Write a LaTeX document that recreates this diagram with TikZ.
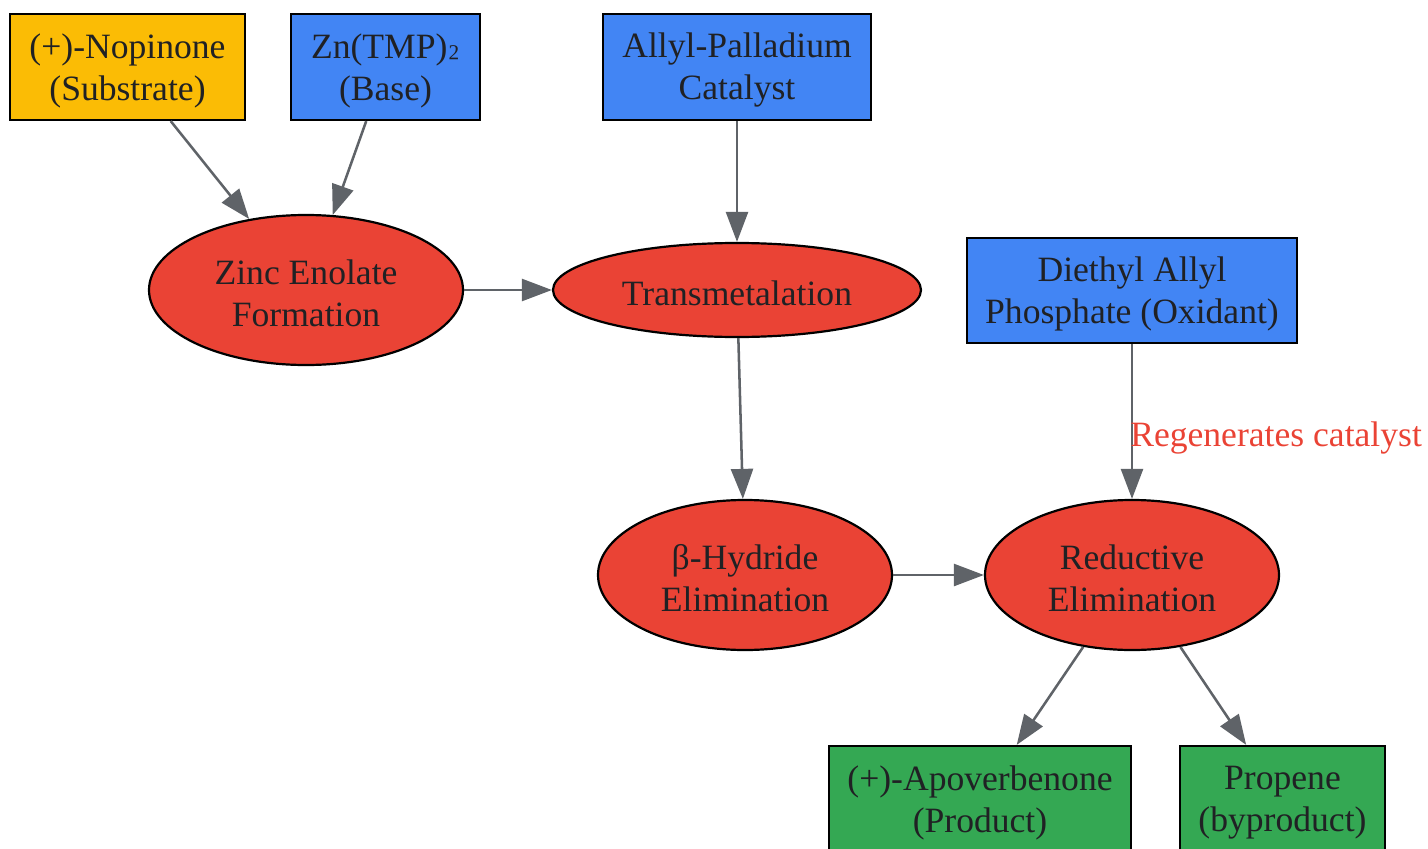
\documentclass[tikz,border=0pt]{standalone}
\usepackage{fontspec}
\setmainfont{Liberation Serif}
\usetikzlibrary{shapes.geometric,arrows.meta}
\definecolor{gyellow}{HTML}{FBBC05}
\definecolor{gblue}{HTML}{4285F4}
\definecolor{gred}{HTML}{EA4335}
\definecolor{ggreen}{HTML}{34A853}
\definecolor{txt}{HTML}{202124}
\definecolor{edgegrey}{HTML}{5F6368}
\begin{document}
\begin{tikzpicture}[x=0.75pt,y=-0.75pt,
  base/.style={draw=black, line width=1.65pt, inner sep=0pt},
  lbl/.style={text=txt, font=\fontsize{26.7}{31.5}\selectfont, align=center, inner sep=0pt, yshift=-2.6pt},
  txtin/.style={label={[lbl]center:#1}},
  boxnode/.style={base, rectangle},
  ellnode/.style={base, ellipse, fill=gred},
  conn/.style={draw=edgegrey, line width=1.9pt, -{Triangle[length=22.5pt,width=16.5pt]}},
  edgelabel/.style={text=gred, font=\fontsize{26.7}{31.5}\selectfont, inner sep=0pt}]
\useasboundingbox (0,0) rectangle (1428,849);

\node[boxnode, fill=gyellow, minimum width=176.25pt, minimum height=79.5pt, txtin={(+)-Nopinone\\(Substrate)}] (nop) at (127.5,67) {};
\node[boxnode, fill=gblue, minimum width=141.75pt, minimum height=79.5pt, txtin={Zn(TMP)\raisebox{4.5pt}{₂}\\(Base)}] (zn) at (385.5,67) {};
\node[boxnode, fill=gblue, minimum width=201pt, minimum height=79.5pt, txtin={Allyl-Palladium\\Catalyst}] (pd) at (737,67) {};
\node[boxnode, fill=gblue, minimum width=247.5pt, minimum height=78.75pt, txtin={Diethyl Allyl\\Phosphate (Oxidant)}] (dap) at (1132,290.5) {};

\node[ellnode, minimum width=235.5pt, minimum height=112.5pt, txtin={Zinc Enolate\\Formation}] (zen) at (306,290) {};
\node[ellnode, minimum width=276pt, minimum height=70.5pt, txtin={Transmetalation}] (tm) at (737,290) {};
\node[ellnode, minimum width=220.5pt, minimum height=112.5pt, txtin={β-Hydride\\Elimination}] (bhe) at (745,575) {};
\node[ellnode, minimum width=220.5pt, minimum height=112.5pt, txtin={Reductive\\Elimination}] (re) at (1132,575) {};

\node[boxnode, fill=ggreen, minimum width=226.5pt, minimum height=79.5pt, txtin={(+)-Apoverbenone\\(Product)}] (apo) at (980,799) {};
\node[boxnode, fill=ggreen, minimum width=153.75pt, minimum height=79.5pt, txtin={Propene\\(byproduct)}] (prop) at (1282.5,799) {};

\draw[conn] (nop) -- (zen);
\draw[conn] (zn) -- (zen);
\draw[conn] (pd) -- (tm);
\draw[conn] (zen) -- (tm);
\draw[conn] (tm) -- (bhe);
\draw[conn] (dap) -- node[edgelabel, pos=0.607, anchor=west, xshift=-2.25pt] {Regenerates catalyst} (re);
\draw[conn] (bhe) -- (re);
\draw[conn] (re) -- (apo);
\draw[conn] (re) -- (prop);
\end{tikzpicture}
\end{document}
